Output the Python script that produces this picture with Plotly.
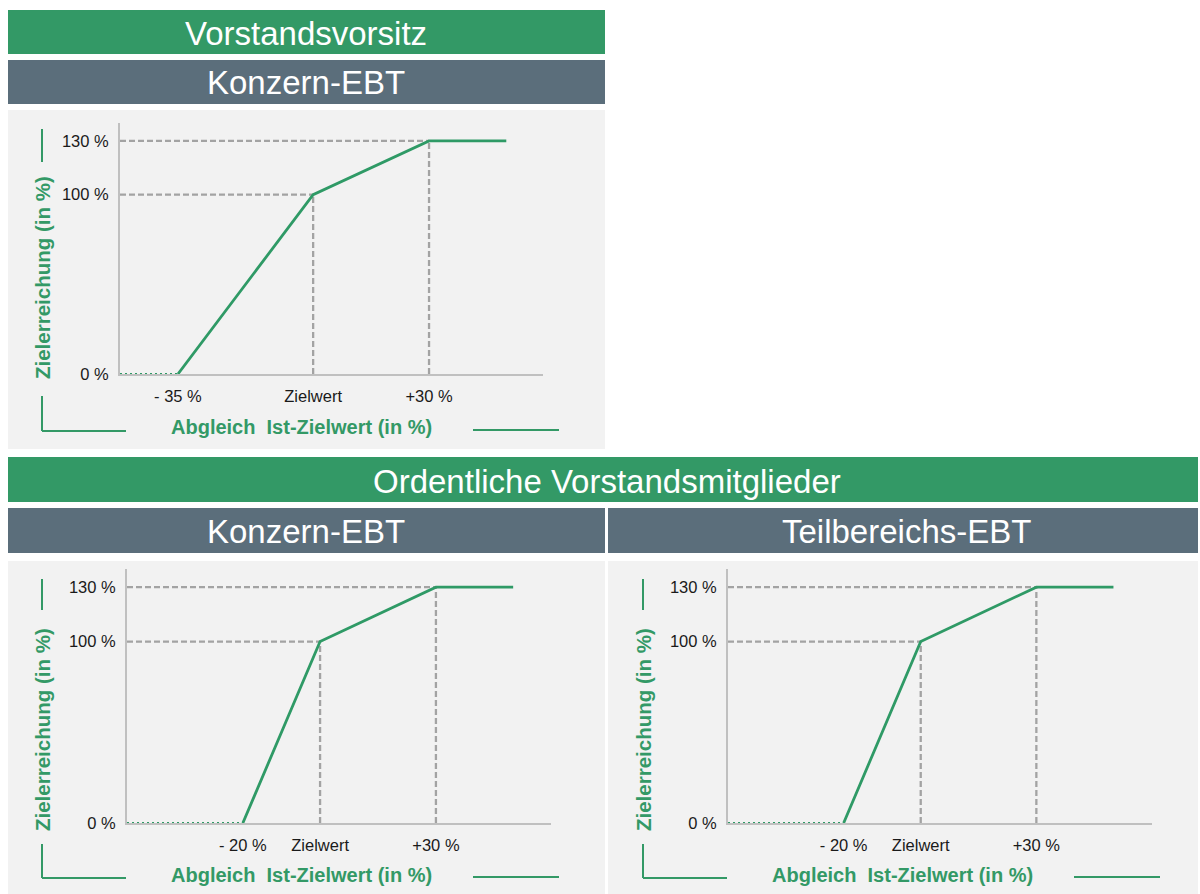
import plotly.graph_objects as go

REF_W, REF_H = 1200, 894      # reference pixel space used for placement
W, H = 1200, 903              # figure size (compensates the slight vertical squeeze of the photo)

# ---------------- data ----------------
x_vorsitz = [-50, -35, 0, 30, 50]
y_vorsitz = [0, 0, 100, 130, 130]
x_ordentlich = [-50, -20, 0, 30, 50]
y_ordentlich = [0, 0, 100, 130, 130]
ytick_vals = [0, 100, 130]
ytick_text = ["0 %", "100 %", "130 %"]
xtick_text_vorsitz = ["- 35 %", "Zielwert", "+30 %"]
xtick_text_ordentlich = ["- 20 %", "Zielwert", "+30 %"]
title_top = "Vorstandsvorsitz"
title_bottom = "Ordentliche Vorstandsmitglieder"
sub_left = "Konzern-EBT"
sub_right = "Teilbereichs-EBT"
y_title = "Zielerreichung (in %)"
x_title = "Abgleich\u00a0 Ist-Zielwert (in %)"

GREEN = "#339966"
LINE_GREEN = "#2f9a66"
SLATE = "#5b6e7b"
PANEL = "#f2f2f2"
REF = "#a3a3a3"
AXIS = "#c0c0c0"
FONT = "Liberation Sans, Arial, sans-serif"


def fx(px):
    return px / REF_W


def fy(py):
    return 1 - py / REF_H


fig = go.Figure()
shapes = []
annotations = []


def rect(x0, y0, x1, y1, color):
    shapes.append(dict(type="rect", xref="paper", yref="paper",
                       x0=fx(x0), x1=fx(x1), y0=fy(y1), y1=fy(y0),
                       fillcolor=color, line=dict(width=0), layer="below"))


def seg(x0, y0, x1, y1, color=GREEN, w=2):
    shapes.append(dict(type="line", xref="paper", yref="paper",
                       x0=fx(x0), x1=fx(x1), y0=fy(y0), y1=fy(y1),
                       line=dict(color=color, width=w), layer="below"))


def text(px, py, s, size, color="white", bold=False, angle=0):
    annotations.append(dict(xref="paper", yref="paper", x=fx(px), y=fy(py),
                            text=("<b>%s</b>" % s) if bold else s,
                            showarrow=False, textangle=angle,
                            xanchor="center", yanchor="middle",
                            font=dict(family=FONT, size=size, color=color)))


# banners
rect(8, 10, 605, 54, GREEN)
text(306, 33, title_top, 33)
rect(8, 60, 605, 104, SLATE)
text(306, 83, sub_left, 33)
rect(8, 457, 1198, 502, GREEN)
text(607, 481, title_bottom, 33)
rect(8, 508, 605, 553, SLATE)
text(306, 531, sub_left, 33)
rect(608, 508, 1198, 553, SLATE)
text(906, 531, sub_right, 33)

panels = [
    dict(bg=(8, 110, 605, 449), ax=(120, 123, 543, 374), xr=[-50, 59.5],
         x=x_vorsitz, y=y_vorsitz, tt=xtick_text_vorsitz,
         ytitle_x=42, ytitle_y=278, dtop=(129, 162), dbot=(396, 431),
         xtitle_x=301, xtitle_y=427, dx=0),
    dict(bg=(8, 561, 605, 894), ax=(127, 569, 551, 823), xr=[-50, 59.8],
         x=x_ordentlich, y=y_ordentlich, tt=xtick_text_ordentlich,
         ytitle_x=42, ytitle_y=730, dtop=(579, 610), dbot=(844, 878),
         xtitle_x=301, xtitle_y=875, dx=0),
    dict(bg=(608, 561, 1198, 894), ax=(728, 569, 1152, 823), xr=[-50, 60],
         x=x_ordentlich, y=y_ordentlich, tt=xtick_text_ordentlich,
         ytitle_x=643, ytitle_y=730, dtop=(579, 610), dbot=(844, 878),
         xtitle_x=902, xtitle_y=875, dx=601),
]

for i, p in enumerate(panels, start=1):
    xa = "x" if i == 1 else "x%d" % i
    ya = "y" if i == 1 else "y%d" % i
    rect(*p["bg"], PANEL)
    x, y = p["x"], p["y"]
    common = dict(xaxis=xa, yaxis=ya, mode="lines", showlegend=False,
                  hoverinfo="skip", cliponaxis=False)
    dash = dict(color=REF, width=2.3, dash="6px,3px")
    fig.add_trace(go.Scatter(x=[x[0], x[2]], y=[y[2], y[2]], line=dash, **common))
    fig.add_trace(go.Scatter(x=[x[0], x[3]], y=[y[3], y[3]], line=dash, **common))
    fig.add_trace(go.Scatter(x=[x[2], x[2]], y=[y[0], y[2]], line=dash, **common))
    fig.add_trace(go.Scatter(x=[x[3], x[3]], y=[y[0], y[3]], line=dash, **common))
    # flat part (dotted over axis)
    fig.add_trace(go.Scatter(x=x[:2], y=y[:2],
                             line=dict(color=LINE_GREEN, width=2, dash="2px,3px"), **common))
    # main curve
    fig.add_trace(go.Scatter(x=x[1:], y=y[1:],
                             line=dict(color=LINE_GREEN, width=2.8), **common))

    ax0, aytop, ax1, aybot = p["ax"]
    axis_common = dict(showgrid=False, zeroline=False, showline=True,
                       linecolor=AXIS, linewidth=2, ticks="", fixedrange=True,
                       tickfont=dict(family=FONT, size=16.5, color="#1a1a1a"),
                       layer="below traces")
    fig.update_layout(**{
        ("xaxis" if i == 1 else "xaxis%d" % i): dict(
            domain=[fx(ax0), fx(ax1)], range=p["xr"], anchor=ya,
            tickvals=[x[1], x[2], x[3]], ticktext=p["tt"],
            ticklabelstandoff=6, **axis_common),
        ("yaxis" if i == 1 else "yaxis%d" % i): dict(
            domain=[fy(aybot), fy(aytop)], range=[0, 140], anchor=xa,
            tickvals=ytick_vals, ticktext=ytick_text,
            ticklabelstandoff=6, **axis_common),
    })

    text(p["ytitle_x"], p["ytitle_y"], y_title, 20.5, GREEN, bold=True, angle=-90)
    text(p["xtitle_x"], p["xtitle_y"], x_title, 20, GREEN, bold=True)
    dxp = p["dx"]
    seg(42 + dxp, p["dtop"][0], 42 + dxp, p["dtop"][1])
    seg(42 + dxp, p["dbot"][0], 42 + dxp, p["dbot"][1])
    seg(42 + dxp, p["dbot"][1], 126 + dxp, p["dbot"][1])
    seg(473 + dxp, p["dbot"][1] - 1, 559 + dxp, p["dbot"][1] - 1)

fig.update_layout(width=W, height=H, margin=dict(l=0, r=0, t=0, b=0),
                  paper_bgcolor="white", plot_bgcolor="rgba(0,0,0,0)",
                  shapes=shapes, annotations=annotations,
                  font=dict(family=FONT))

fig.write_html(
    "out.html",
    config={"displayModeBar": False},
    post_script="document.body.style.margin='0';document.body.style.overflow='hidden';",
)
